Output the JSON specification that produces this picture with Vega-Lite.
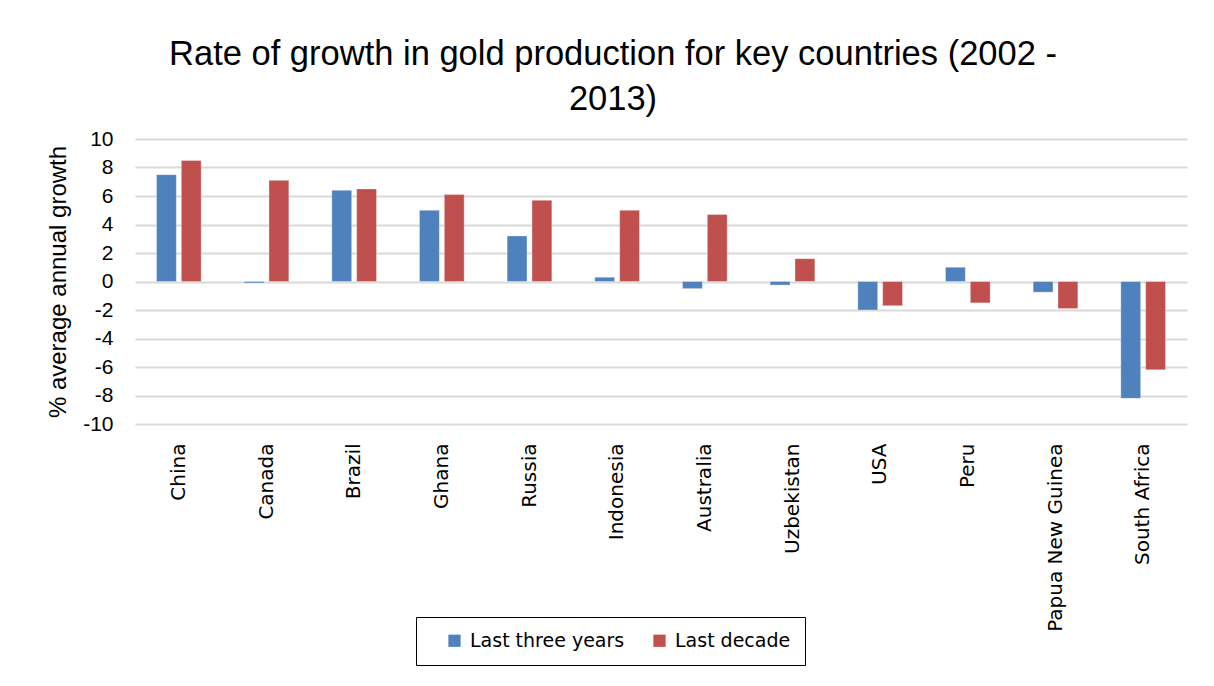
{
  "$schema": "https://vega.github.io/schema/vega-lite/v6.json",
  "autosize": {"type": "none"},
  "padding": {"left": 135, "top": 139, "right": 27, "bottom": 262},
  "width": 1052,
  "height": 285,
  "background": "white",
  "title": {
    "text": ["Rate of growth in gold production for key countries (2002 -", "2013)"],
    "font": "Liberation Sans",
    "fontSize": 34.5,
    "fontWeight": "normal",
    "color": "#000000",
    "anchor": "middle",
    "dx": -48,
    "offset": 11,
    "lineHeight": 45
  },
  "data": {
    "values": [
      {"country": "China", "period": "Last three years", "value": 7.5},
      {"country": "China", "period": "Last decade", "value": 8.5},
      {"country": "Canada", "period": "Last three years", "value": -0.1},
      {"country": "Canada", "period": "Last decade", "value": 7.1},
      {"country": "Brazil", "period": "Last three years", "value": 6.4},
      {"country": "Brazil", "period": "Last decade", "value": 6.5},
      {"country": "Ghana", "period": "Last three years", "value": 5.0},
      {"country": "Ghana", "period": "Last decade", "value": 6.1},
      {"country": "Russia", "period": "Last three years", "value": 3.2},
      {"country": "Russia", "period": "Last decade", "value": 5.7},
      {"country": "Indonesia", "period": "Last three years", "value": 0.3},
      {"country": "Indonesia", "period": "Last decade", "value": 5.0},
      {"country": "Australia", "period": "Last three years", "value": -0.5},
      {"country": "Australia", "period": "Last decade", "value": 4.7},
      {"country": "Uzbekistan", "period": "Last three years", "value": -0.25},
      {"country": "Uzbekistan", "period": "Last decade", "value": 1.6},
      {"country": "USA", "period": "Last three years", "value": -2.0},
      {"country": "USA", "period": "Last decade", "value": -1.7},
      {"country": "Peru", "period": "Last three years", "value": 1.0},
      {"country": "Peru", "period": "Last decade", "value": -1.5},
      {"country": "Papua New Guinea", "period": "Last three years", "value": -0.75},
      {"country": "Papua New Guinea", "period": "Last decade", "value": -1.9},
      {"country": "South Africa", "period": "Last three years", "value": -8.2},
      {"country": "South Africa", "period": "Last decade", "value": -6.2}
    ]
  },
  "mark": {"type": "bar", "stroke": "#ffffff", "strokeOpacity": 0.35, "strokeWidth": 1},
  "encoding": {
    "x": {
      "field": "country",
      "type": "nominal",
      "sort": null,
      "scale": {"paddingInner": 0.49, "paddingOuter": 0.245},
      "axis": {
        "title": null,
        "labelAngle": -90,
        "labelAlign": "right",
        "labelBaseline": "middle",
        "labelFont": "DejaVu Sans",
        "labelFontSize": 20,
        "labelColor": "#000000",
        "labelPadding": 19,
        "ticks": false,
        "domain": false,
        "labelLimit": 400
      }
    },
    "xOffset": {
      "field": "period",
      "type": "nominal",
      "sort": ["Last three years", "Last decade"],
      "scale": {"paddingInner": 0.2, "paddingOuter": 0}
    },
    "y": {
      "field": "value",
      "type": "quantitative",
      "scale": {"domain": [-10, 10], "nice": false, "zero": true},
      "axis": {
        "title": "% average annual growth",
        "titleFont": "Liberation Sans",
        "titleFontSize": 24,
        "titleFontWeight": "normal",
        "titleColor": "#000000",
        "titlePadding": 12,
        "values": [-10, -8, -6, -4, -2, 0, 2, 4, 6, 8, 10],
        "labelExpr": "'' + datum.value",
        "labelFont": "Liberation Sans",
        "labelFontSize": 21,
        "labelColor": "#000000",
        "labelPadding": 22,
        "ticks": false,
        "domain": false,
        "grid": true,
        "gridColor": "#D9D9D9",
        "gridWidth": 2
      }
    },
    "color": {
      "field": "period",
      "type": "nominal",
      "sort": ["Last three years", "Last decade"],
      "scale": {"domain": ["Last three years", "Last decade"], "range": ["#4F81BD", "#C0504D"]},
      "legend": {
        "title": null,
        "orient": "none",
        "legendX": 281,
        "legendY": 478,
        "direction": "horizontal",
        "symbolType": "square",
        "symbolSize": 150,
        "symbolStrokeWidth": 0,
        "symbolOffset": 15,
        "labelFont": "DejaVu Sans",
        "labelFontSize": 19,
        "labelColor": "#000000",
        "labelOffset": 6,
        "columnPadding": 10,
        "padding": 14,
        "strokeColor": "#000000",
        "fillColor": "#ffffff"
      }
    }
  },
  "config": {
    "view": {"stroke": null}
  }
}
